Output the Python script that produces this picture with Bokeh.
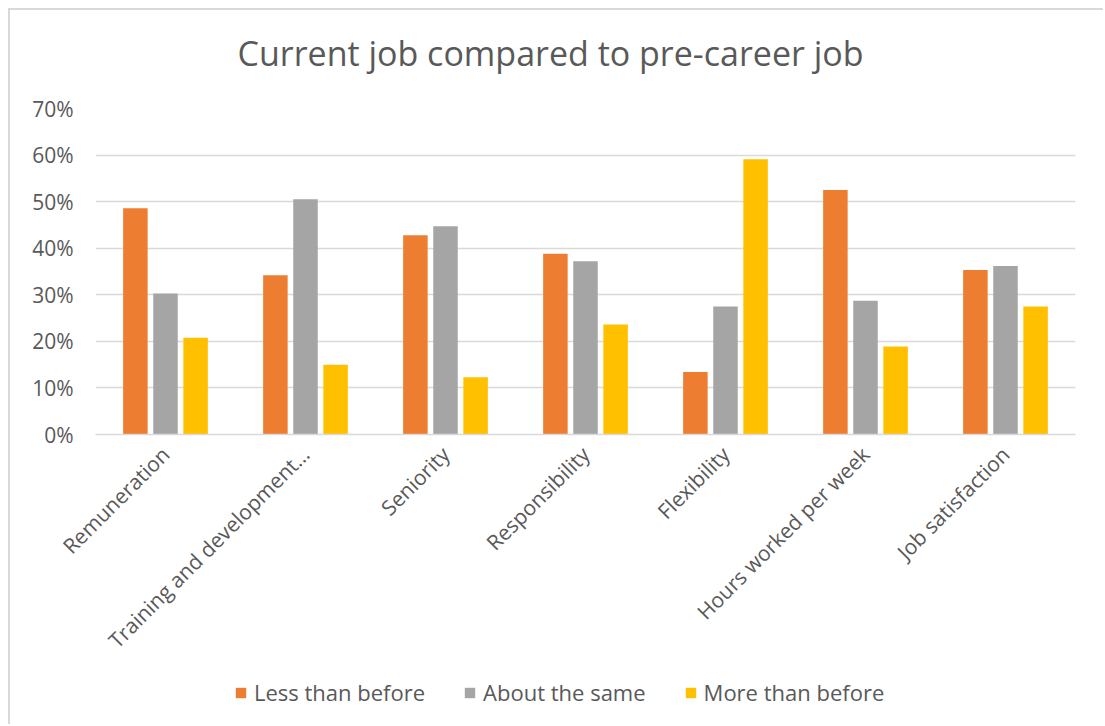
import math
from bokeh.plotting import figure
from bokeh.layouts import column
from bokeh.models import (ColumnDataSource, FactorRange, FixedTicker, NumeralTickFormatter,
                          Legend, LegendItem, Label, Range1d)
from bokeh.transform import dodge
from bokeh.embed import file_html
from bokeh.resources import INLINE

categories = ["Remuneration", "Training and development\u2026", "Seniority", "Responsibility",
              "Flexibility", "Hours worked per week", "Job satisfaction"]
less_than_before = [0.486, 0.342, 0.428, 0.388, 0.134, 0.525, 0.353]
about_the_same = [0.303, 0.505, 0.447, 0.372, 0.275, 0.287, 0.362]
more_than_before = [0.208, 0.150, 0.123, 0.236, 0.591, 0.189, 0.275]
series_names = ["Less than before", "About the same", "More than before"]
colors = ["#ED7D31", "#A5A5A5", "#FFC000"]
y_ticks = [0, 0.1, 0.2, 0.3, 0.4, 0.5, 0.6, 0.7]
title_text = "Current job compared to pre-career job"

FONT = "Open Sans"
TXT = "#595959"
W = 1093
FRAME_W = 980  # the strips' frames are aligned with the chart's frame by the column


def blank_fig(h):
    f = figure(width=W, height=h, x_range=Range1d(0, FRAME_W), y_range=Range1d(0, h),
               x_axis_type=None, y_axis_type=None, output_backend="svg", toolbar_location=None,
               min_border=0)
    f.outline_line_color = None
    f.grid.visible = False
    return f


# title strip
tf = blank_fig(78)
tf.add_layout(Label(x=142, y=36, text=title_text, text_font=FONT, text_font_size="34px",
                    text_color=TXT, text_baseline="middle", text_align="left"))

# main chart
src = ColumnDataSource(dict(cat=categories, less=less_than_before,
                            same=about_the_same, more=more_than_before))

p = figure(width=W, height=582, x_range=FactorRange(*categories), y_range=(0, 0.7),
           output_backend="svg", toolbar_location=None,
           min_border_left=85, min_border_right=28, min_border_top=20, min_border_bottom=236)
p.outline_line_color = None

fields = ["less", "same", "more"]
offsets = [-0.215, 0.0, 0.215]
renderers = []
for f, off, c in zip(fields, offsets, colors):
    r = p.vbar(x=dodge("cat", off, range=p.x_range), top=f, width=0.175, source=src,
               fill_color=c, line_color=None)
    renderers.append(r)

p.yaxis.ticker = FixedTicker(ticks=y_ticks)
p.yaxis.formatter = NumeralTickFormatter(format="0%")
p.yaxis.axis_line_color = None
p.yaxis.major_tick_line_color = None
p.yaxis.minor_tick_line_color = None
p.yaxis.major_tick_out = 0
p.yaxis.major_label_text_font = FONT
p.yaxis.major_label_text_font_size = "21px"
p.yaxis.major_label_text_color = TXT
p.yaxis.major_label_standoff = 22

p.xaxis.axis_line_color = "#d9d9d9"
p.xaxis.axis_line_width = 1.5
p.xaxis.major_tick_line_color = None
p.xaxis.minor_tick_line_color = None
p.xaxis.major_label_orientation = math.pi / 4
p.xaxis.major_label_text_font = FONT
p.xaxis.major_label_text_font_size = "21px"
p.xaxis.major_label_text_color = TXT
p.xaxis.major_label_standoff = 10

p.xgrid.grid_line_color = None
p.ygrid.grid_line_color = "#d9d9d9"
p.ygrid.grid_line_width = 1.5
p.ygrid.ticker = FixedTicker(ticks=y_ticks)

# legend strip (zero-height proxy bars carry the swatch colours)
lf = blank_fig(54)
proxy = ColumnDataSource(dict(x=[0], top=[0]))
lrs = [lf.vbar(x="x", top="top", width=1, source=proxy, fill_color=c, line_color=None)
       for c in colors]
legend = Legend(items=[LegendItem(label=n, renderers=[r]) for n, r in zip(series_names, lrs)],
                orientation="horizontal", location=(139, 17),
                label_text_font=FONT, label_text_font_size="22px", label_text_color=TXT,
                glyph_width=13, glyph_height=13, label_standoff=7, spacing=38,
                padding=0, margin=0, border_line_color=None, background_fill_alpha=0)
lf.add_layout(legend, "center")

layout = column(tf, p, lf, spacing=0,
                styles={"margin-left": "8px", "margin-top": "8px",
                        "border-left": "2px solid #d9d9d9", "border-top": "2px solid #d9d9d9"})

open("out.html", "w").write(file_html(layout, INLINE))
